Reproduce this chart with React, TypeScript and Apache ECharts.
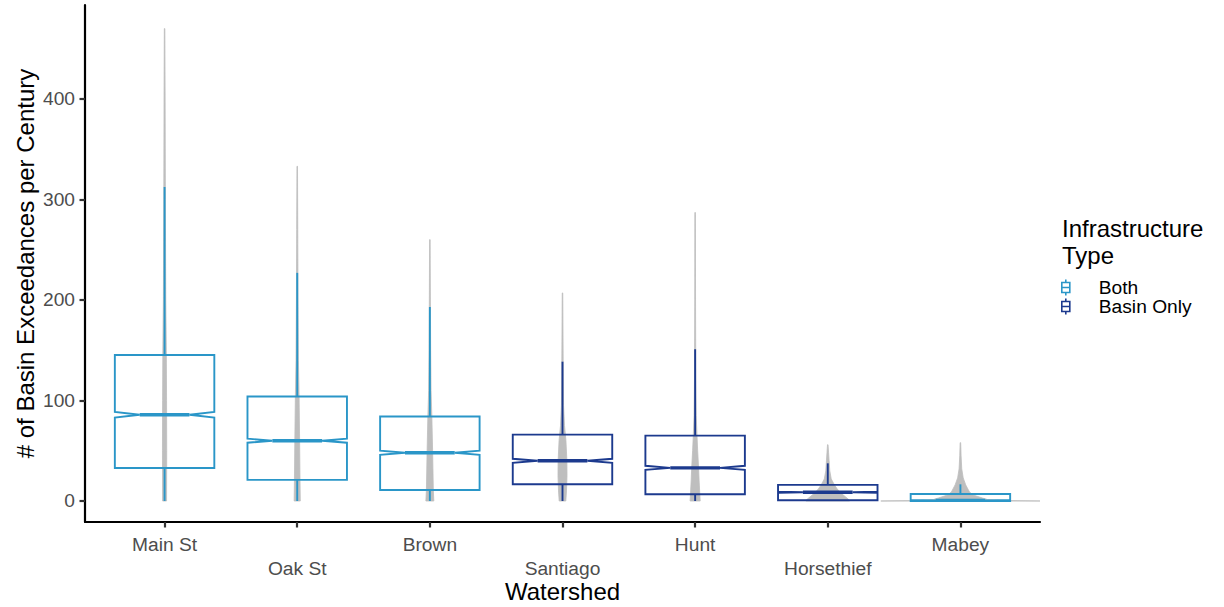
import React, { useEffect, useRef } from "react";
import * as echarts from "echarts";

// ---------- data ----------
const watersheds = ["Main St", "Oak St", "Brown", "Santiago", "Hunt", "Horsethief", "Mabey"];
const infrastructure = ["Both", "Both", "Both", "Basin Only", "Basin Only", "Basin Only", "Both"];
const legendTypes = ["Both", "Basin Only"];

const whiskerLow = [0, 0, 0, 0, 0, 0, 0];
const q1 = [32.8, 21, 11, 16.6, 6.7, 0.7, 0];
const notchLow = [83, 58, 46, 38, 31, 8.1, 0.1];
const median = [85.8, 60, 48, 40, 33, 8.7, 0.6];
const notchHigh = [88.6, 62, 50, 42, 35, 9.3, 1.1];
const q3 = [145.3, 104, 84, 66, 65, 16, 7];
const whiskerHigh = [312.4, 227, 193, 138.6, 151, 37.5, 16.6];

// violin outlines: levels (y values) and half-widths (per-mille of one category)
const violinLevels = [
  [0, 50, 100, 150, 200, 300, 400, 470],
  [0, 20, 60, 104, 140, 200, 270, 333],
  [0, 11, 48, 84, 110, 150, 200, 260],
  [0, 10, 25, 40, 60, 75, 95, 140, 207],
  [0, 7, 20, 33, 50, 65, 85, 120, 200, 287],
  [0, 1, 4, 8, 12, 16, 22, 30, 40, 48, 56],
  [0, 0.5, 1.5, 3, 6, 9, 16, 23, 32, 45, 58],
];
const violinWidths = [
  [15, 16, 15, 13, 9, 6, 4, 2],
  [23, 21, 18, 14, 9, 6, 4, 2],
  [30, 26, 21, 15, 9, 6, 4, 2],
  [25, 30, 34, 33, 26, 15, 8, 5, 2],
  [38, 35, 30, 26, 19, 14, 8, 5, 3, 2],
  [165, 162, 135, 98, 71, 50, 26, 15, 10, 6, 2],
  [600, 300, 203, 165, 96, 68, 40, 21, 10, 5, 2],
];

const yTicks = [0, 100, 200, 300, 400];

// ---------- styles ----------
const COLORS: Record<string, string> = { Both: "#2A96C8", "Basin Only": "#1C3A8E" };
const GREY = "#BEBEBE";
const FONT = "'Liberation Sans', Arial, Helvetica, sans-serif";
const BOX_WIDTH = 0.75;
const NOTCH_RATIO = 0.5;
const LW = 1.9;
const LW_MED = 3.4;

function renderBox(_params: any, api: any) {
  const x = api.value(0);
  const wl = api.value(1), lo = api.value(2), nl = api.value(3), md = api.value(4);
  const nh = api.value(5), hi = api.value(6), wh = api.value(7);
  const band = api.size([1, 0])[0];
  const half = (band * BOX_WIDTH) / 2;
  const inset = half * NOTCH_RATIO;
  const cx = api.coord([x, md])[0];
  const y = (v: number) => api.coord([x, v])[1];
  const color = api.visual("color");
  const xl = cx - half, xr = cx + half;
  const pts = [
    [xl, y(hi)], [xr, y(hi)], [xr, y(nh)], [xr - inset, y(md)], [xr, y(nl)], [xr, y(lo)],
    [xl, y(lo)], [xl, y(nl)], [xl + inset, y(md)], [xl, y(nh)],
  ];
  return {
    type: "group",
    children: [
      { type: "line", shape: { x1: cx, y1: y(hi), x2: cx, y2: y(wh) }, style: { stroke: color, lineWidth: LW } },
      { type: "line", shape: { x1: cx, y1: y(lo), x2: cx, y2: y(wl) }, style: { stroke: color, lineWidth: LW } },
      { type: "polygon", shape: { points: pts }, style: { fill: "none", stroke: color, lineWidth: LW, lineJoin: "miter" } },
      { type: "line", shape: { x1: xl + inset, y1: y(md), x2: xr - inset, y2: y(md) }, style: { stroke: color, lineWidth: LW_MED } },
    ],
  };
}

function renderViolin(_params: any, api: any) {
  const x = api.value(0);
  const idx = api.value(3);
  const levels = violinLevels[idx];
  const widths = violinWidths[idx];
  const band = api.size([1, 0])[0];
  const right = levels.map((v, i) => {
    const p = api.coord([x, v]);
    return [p[0] + (widths[i] / 1000) * band, p[1]];
  });
  const left = levels
    .map((v, i) => {
      const p = api.coord([x, v]);
      return [p[0] - (widths[i] / 1000) * band, p[1]];
    })
    .reverse();
  return {
    type: "polygon",
    shape: { points: right.concat(left) },
    style: { fill: GREY, stroke: GREY, lineWidth: 0.8 },
  };
}

export default function App() {
  const ref = useRef<HTMLDivElement>(null);

  useEffect(() => {
    if (!ref.current) return;
    const chart = echarts.init(ref.current, undefined, { renderer: "svg", width: 1224, height: 607 });

    const violinData = watersheds.map((_, i) => [
      i,
      0,
      violinLevels[i][violinLevels[i].length - 1],
      i,
    ]);

    const boxSeries = legendTypes.map((t) => ({
      name: t,
      type: "custom",
      renderItem: renderBox,
      itemStyle: { color: COLORS[t] },
      encode: { x: 0, y: [1, 2, 3, 4, 5, 6, 7] },
      data: watersheds
        .map((_, i) => i)
        .filter((i) => infrastructure[i] === t)
        .map((i) => [i, whiskerLow[i], q1[i], notchLow[i], median[i], notchHigh[i], q3[i], whiskerHigh[i]]),
      z: 3,
    }));

    const boxIcon = "path://M5,0L5,3M1,3L9,3L9,13L1,13ZM1,8L9,8M5,13L5,16";

    chart.setOption({
      animation: false,
      backgroundColor: "#FFFFFF",
      textStyle: { fontFamily: FONT },
      grid: { left: 85, top: 5, width: 955, height: 517, containLabel: false, outerBoundsMode: "none" },
      xAxis: {
        type: "value",
        min: -0.6,
        max: 6.6,
        name: "Watershed",
        nameLocation: "middle",
        nameGap: 57,
        nameMoveOverlap: false,
        nameTextStyle: { fontSize: 24, color: "#000000", fontFamily: FONT, lineHeight: 24 },
        axisLine: { show: true, onZero: false, lineStyle: { color: "#000000", width: 2.2 } },
        axisTick: {
          show: true,
          length: 5.5,
          customValues: watersheds.map((_, i) => i),
          lineStyle: { color: "#333333", width: 2.2 },
        },
        axisLabel: {
          customValues: watersheds.map((_, i) => i),
          formatter: (v: number) => {
            const i = Math.round(v);
            return i % 2 === 1 ? "\n" + watersheds[i] : watersheds[i];
          },
          fontSize: 19.2,
          lineHeight: 24,
          color: "#4D4D4D",
          fontFamily: FONT,
          margin: 10,
          verticalAlign: "top",
        },
        splitLine: { show: false },
      },
      yAxis: {
        type: "value",
        min: -20.9,
        max: 493.5,
        name: "# of Basin Exceedances per Century",
        nameLocation: "middle",
        nameGap: 48,
        nameMoveOverlap: false,
        nameTextStyle: { fontSize: 24, color: "#000000", fontFamily: FONT },
        axisLine: { show: true, onZero: false, lineStyle: { color: "#000000", width: 2.2 } },
        axisTick: { show: true, length: 5.5, customValues: yTicks, lineStyle: { color: "#333333", width: 2.2 } },
        axisLabel: { customValues: yTicks, fontSize: 19.2, color: "#4D4D4D", fontFamily: FONT, margin: 10 },
        splitLine: { show: false },
      },
      legend: {
        orient: "vertical",
        left: 1061,
        top: 278,
        padding: 0,
        itemGap: 0,
        itemWidth: 10,
        itemHeight: 16,
        selectedMode: false,
        textStyle: { fontSize: 19.2, color: "#000000", fontFamily: FONT, lineHeight: 18, padding: [0, 0, 0, 23] },
        data: legendTypes.map((t) => ({
          name: t,
          icon: boxIcon,
          itemStyle: { color: "rgba(0,0,0,0)", borderColor: COLORS[t], borderWidth: 1.6 },
        })),
      },
      graphic: [
        {
          type: "text",
          left: 1062,
          top: 215,
          style: {
            text: "Infrastructure\nType",
            font: `24px ${FONT}`,
            lineHeight: 27,
            fill: "#000000",
          },
        },
      ],
      series: [
        {
          name: "violin",
          type: "custom",
          renderItem: renderViolin,
          encode: { x: 0, y: [1, 2] },
          data: violinData,
          silent: true,
          z: 2,
        },
        ...boxSeries,
      ],
    });

    return () => chart.dispose();
  }, []);

  return (
    <div
      ref={ref}
      style={{ position: "fixed", left: 0, top: 0, width: 1224, height: 607, background: "#fff" }}
    />
  );
}
